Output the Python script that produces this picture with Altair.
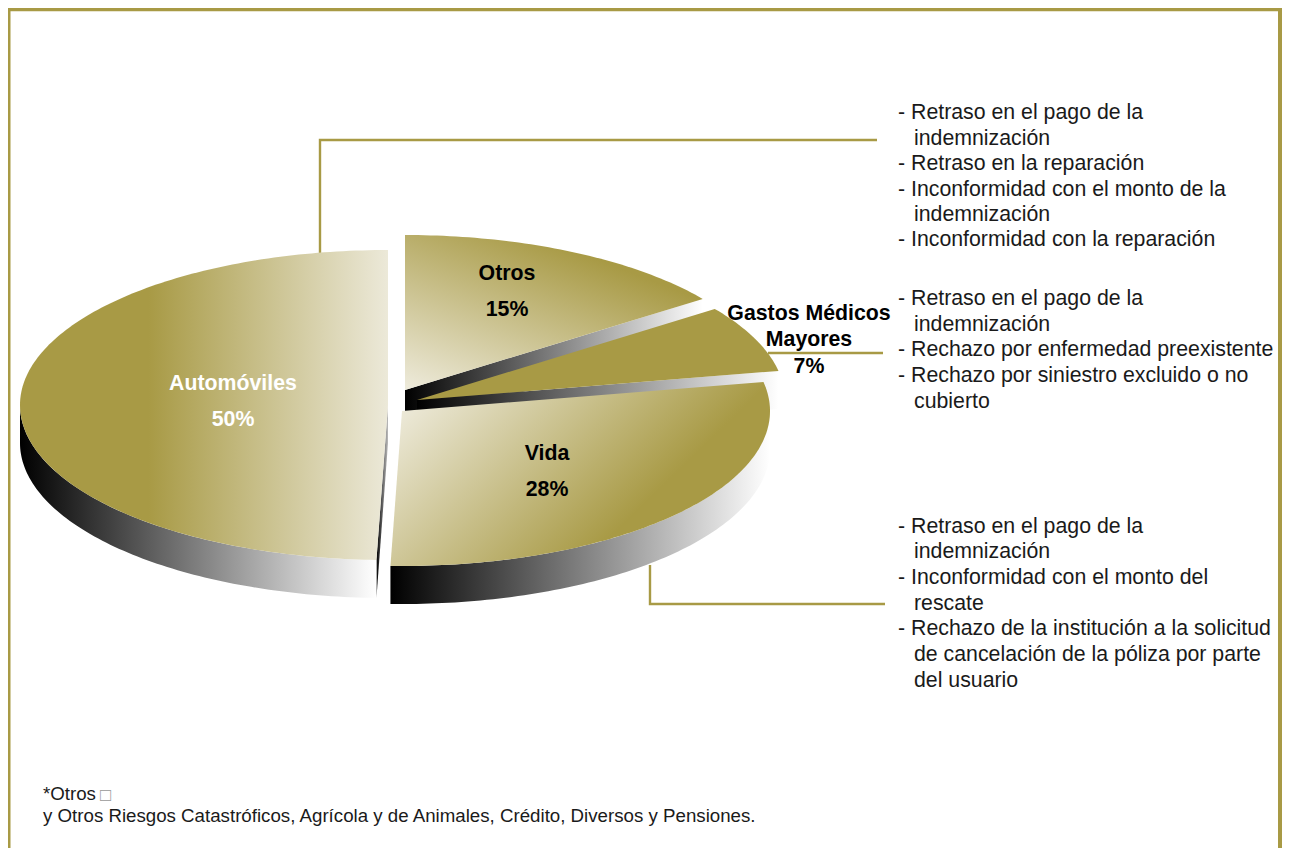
import math
import altair as alt
import pandas as pd

# ---- data ----
slice_names = ["Otros", "Gastos Médicos Mayores", "Vida", "Automóviles"]
slice_shares = [15, 7, 28.5, 49.5]
slice_cx = [405, 417, 402, 388]
slice_cy = [390, 400, 411, 405]
RX, RY, DEPTH = 368, 155, 38

GOLD = "#a89a45"
PALE = "#ece9d9"

upper_dash = ["- Retraso en el pago de la", "- Retraso en la reparación",
              "- Inconformidad con el monto de la", "- Inconformidad con la reparación"]
upper_dash_y = [119, 170, 196, 246]
upper_ind = ["indemnización", "indemnización"]
upper_ind_y = [145, 221]

mid_dash = ["- Retraso en el pago de la", "- Rechazo por enfermedad preexistente",
            "- Rechazo por siniestro excluido o no"]
mid_dash_y = [305, 356, 382]
mid_ind = ["indemnización", "cubierto"]
mid_ind_y = [331, 408]

low_dash = ["- Retraso en el pago de la", "- Inconformidad con el monto del",
            "- Rechazo de la institución a la solicitud"]
low_dash_y = [533, 584, 635]
low_ind = ["indemnización", "rescate", "de cancelación de la póliza por parte", "del usuario"]
low_ind_y = [558, 610, 661, 687]

bold_labels = ["Otros", "15%", "Gastos Médicos", "Mayores", "7%", "Vida", "28%"]
bold_x = [507, 507, 809, 809, 809, 547, 547]
bold_y = [280, 316, 320, 346, 373, 460, 496]

white_labels = ["Automóviles", "50%"]
white_x = [233, 233]
white_y = [390, 426]

foot_text = ["*Otros", "y Otros Riesgos Catastróficos, Agrícola y de Animales, Crédito, Diversos y Pensiones."]
foot_y = [800, 822]
foot_box = ["□"]

X = alt.X("x:Q", scale=alt.Scale(domain=[8, 1282]), axis=None)
Y = alt.Y("y:Q", scale=alt.Scale(domain=[848, 8]), axis=None)


def grad(stops, x1=0, y1=0, x2=1, y2=0):
    return alt.Gradient(gradient="linear", x1=x1, y1=y1, x2=x2, y2=y2,
                        stops=[alt.GradientStop(color=c, offset=o) for o, c in stops])


def ell(cx, cy, deg):
    t = math.radians(deg)
    return cx + RX * math.sin(t), cy - RY * math.cos(t)


def poly(points, fill):
    df = pd.DataFrame([{"x": p[0], "y": p[1], "i": k} for k, p in enumerate(points)])
    return alt.Chart(df).mark_line(fill=fill, strokeWidth=0, strokeOpacity=0, interpolate="linear").encode(
        x=X, y=Y, order="i:Q")


def face(idx, a0, a1, fill):
    cx, cy = slice_cx[idx], slice_cy[idx]
    n = max(2, int(a1 - a0) + 1)
    pts = [(cx, cy)] + [ell(cx, cy, a0 + (a1 - a0) * k / (n - 1)) for k in range(n)]
    return poly(pts, fill)


def outer_wall(idx, a0, a1, fill):
    cx, cy = slice_cx[idx], slice_cy[idx]
    n = max(2, int(a1 - a0) + 1)
    arc = [ell(cx, cy, a0 + (a1 - a0) * k / (n - 1)) for k in range(n)]
    return poly(arc + [(p[0], p[1] + DEPTH) for p in reversed(arc)], fill)


def radial_wall(idx, a, fill):
    cx, cy = slice_cx[idx], slice_cy[idx]
    ox, oy = ell(cx, cy, a)
    return poly([(cx, cy), (ox, oy), (ox, oy + DEPTH), (cx, cy + DEPTH)], fill)


def text_layer(lines, xs, ys, **kw):
    df = pd.DataFrame({"x": xs, "y": ys, "t": lines})
    return alt.Chart(df).mark_text(font="Liberation Sans", baseline="alphabetic", **kw).encode(
        x=X, y=Y, text="t:N")


def path(xs, ys, width=2.4):
    df = pd.DataFrame({"x": xs, "y": ys, "i": range(len(xs))})
    return alt.Chart(df).mark_line(color=GOLD, strokeWidth=width).encode(x=X, y=Y, order="i:Q")


cum = [0]
for s in slice_shares:
    cum.append(cum[-1] + s * 3.6)

bw = [(0, "#000000"), (1, "#ffffff")]
layers = [
    path([320, 320, 877], [253, 140, 140]),
    path([768, 883], [353, 353]),
    path([650, 650, 885], [565, 604, 604]),
    radial_wall(0, cum[1], grad(bw)),
    face(0, cum[0], cum[1], grad([(0, "#eeebdc"), (0.85, GOLD), (1, GOLD)], x1=0, y1=1, x2=0.75, y2=0)),
    radial_wall(1, cum[2], grad(bw)),
    face(1, cum[1], cum[2], GOLD),
    outer_wall(2, 90, cum[3], grad(bw)),
    face(2, cum[2], cum[3], grad([(0.07, "#eeebdc"), (0.8, GOLD), (1, GOLD)], x1=0, y1=0, x2=1, y2=0.5)),
    radial_wall(3, cum[3], grad([(0, "#000000"), (1, "#bbbbbb")])),
    outer_wall(3, cum[3], 270, grad(bw)),
    face(3, cum[3], cum[4], grad([(0, GOLD), (0.35, GOLD), (1, PALE)])),
    path([1280, 1280], [8, 848], 4),
    path([9.25, 9.25], [8, 848], 2.5),
    path([8, 1282], [9.5, 9.5], 3.5),
]

for d, dy, ind, iy in [(upper_dash, upper_dash_y, upper_ind, upper_ind_y),
                       (mid_dash, mid_dash_y, mid_ind, mid_ind_y),
                       (low_dash, low_dash_y, low_ind, low_ind_y)]:
    layers.append(text_layer(d, [898] * len(d), dy, fontSize=21.3, color="#1a1a1a", align="left"))
    layers.append(text_layer(ind, [914] * len(ind), iy, fontSize=21.3, color="#1a1a1a", align="left"))

layers.append(text_layer(bold_labels, bold_x, bold_y, fontSize=21.3, fontWeight="bold", color="#000000", align="center"))
layers.append(text_layer(white_labels, white_x, white_y, fontSize=21.3, fontWeight="bold", color="#ffffff", align="center"))
layers.append(text_layer(foot_text, [43, 43], foot_y, fontSize=18.7, color="#1a1a1a", align="left"))
layers.append(text_layer(foot_box, [100], [801], fontSize=18.7, color="#999999", align="left"))

chart = alt.layer(*layers).properties(
    width=1274, height=840, padding=0,
    autosize=alt.AutoSizeParams(type="none"),
    background="#ffffff",
).configure_view(stroke=None)

chart.save("out.html", embed_options={"renderer": "svg", "actions": False})
